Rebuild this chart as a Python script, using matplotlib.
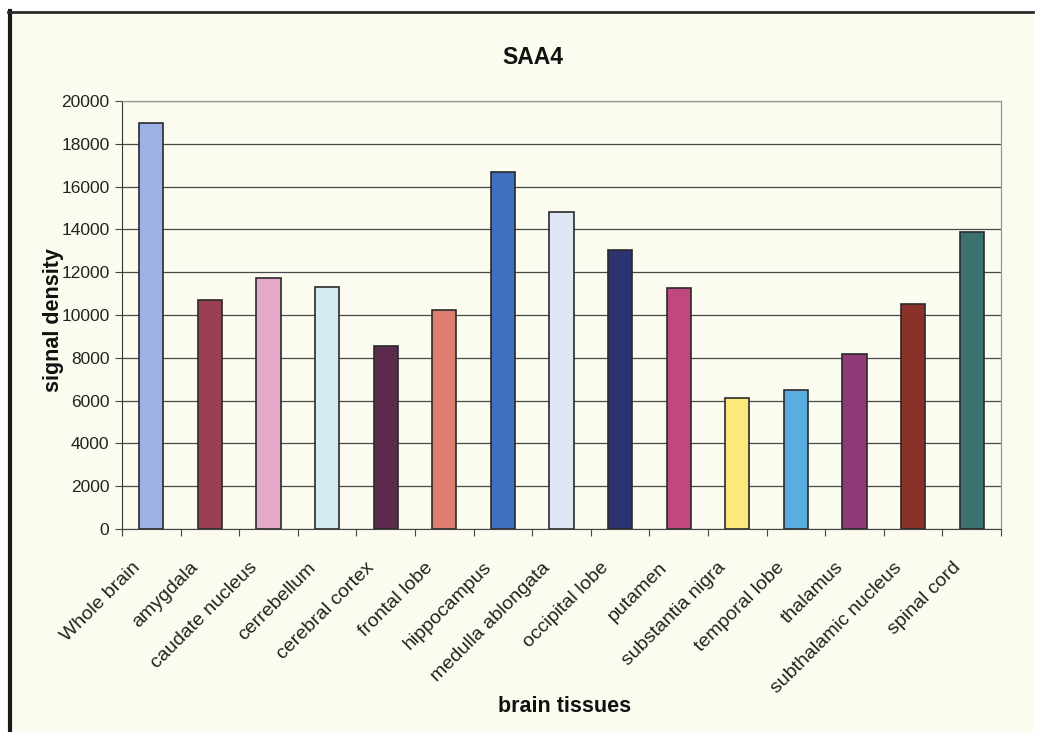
import matplotlib
matplotlib.use("Agg")
from matplotlib import pyplot as plt
from matplotlib.patches import Rectangle
from matplotlib.transforms import ScaledTranslation
import numpy as np

plt.rcParams['font.family'] = ['Liberation Sans', 'DejaVu Sans']

tissues = ["Whole brain", "amygdala", "caudate nucleus", "cerrebellum", "cerebral cortex",
           "frontal lobe", "hippocampus", "medulla ablongata", "occipital lobe", "putamen",
           "substantia nigra", "temporal lobe", "thalamus", "subthalamic nucleus", "spinal cord"]
signal = [18950, 10700, 11750, 11300, 8550, 10250, 16700, 14800, 13050, 11250,
          6100, 6500, 8200, 10500, 13900]
colors = ["#9db3e6", "#9a3f55", "#e5a9c9", "#d3ebf1", "#5c2a4d", "#dc7d70", "#3f6fbe",
          "#dde7f5", "#2b3370", "#c0487f", "#fbe97c", "#5aade0", "#8d3a77", "#8a3129", "#3b7171"]
yticks = np.arange(0, 20001, 2000)

W, H = 1054, 732
fig = plt.figure(figsize=(W / 100, H / 100), dpi=100)
fig.patch.set_facecolor("white")

# cream chart area with dark frame on left/top
bg = "#fbfbef"
fig.add_artist(Rectangle((11 / W, 0), (1033 - 11) / W, 1 - 12 / H,
                         transform=fig.transFigure, facecolor=bg, edgecolor="none", zorder=-10))
fig.add_artist(plt.Line2D([9.5 / W, 9.5 / W], [0, 1 - 11 / H], transform=fig.transFigure,
                          color="#1a1a1a", lw=3, zorder=-5))
fig.add_artist(plt.Line2D([8 / W, 1033 / W], [1 - 12 / H, 1 - 12 / H], transform=fig.transFigure,
                          color="#2a2a2a", lw=2, zorder=-5))

left, right, top, bottom = 122, 1001, 101, 529
ax = fig.add_axes([left / W, 1 - bottom / H, (right - left) / W, (bottom - top) / H])
ax.set_zorder(1)
ax.set_facecolor(bg)

x = np.arange(len(tissues))
ax.bar(x, signal, width=0.41, color=colors, edgecolor="#2a2a2a", linewidth=1.2, zorder=3)

ax.set_xlim(-0.5, len(tissues) - 0.5)
ax.set_ylim(0, 20000)
ax.set_yticks(yticks)
ax.set_yticklabels([str(v) for v in yticks], fontsize=12.5, color="#222222")
ax.yaxis.grid(True, color="#4a4a4a", lw=0.9, zorder=0)

ax.set_xticks(np.append(x - 0.5, len(tissues) - 0.5))
ax.set_xticklabels([""] * (len(tissues) + 1))
ax.tick_params(axis="x", direction="out", length=5, color="#444444")
ax.tick_params(axis="y", direction="out", length=5, color="#444444", pad=4)

off = ScaledTranslation(-14 / 100, -36 / 100, fig.dpi_scale_trans)
for i, name in enumerate(tissues):
    ax.text(i, 0, name, rotation=45, ha="right", va="center", fontsize=14,
            color="#222222", rotation_mode="anchor", transform=ax.transData + off)

for side in ["top", "right"]:
    ax.spines[side].set_color("#999999")
    ax.spines[side].set_linewidth(0.9)
ax.spines["left"].set_color("#333333")
ax.spines["bottom"].set_color("#444444")

fig.text(54 / W, 1 - 320 / H, "signal density", rotation=90, ha="center", va="center",
         fontsize=15.5, fontweight="bold", color="#111111")
fig.text(533 / W, 1 - 57 / H, "SAA4", ha="center", va="center", fontsize=16.5,
         fontweight="bold", color="#111111")
fig.text(565 / W, 1 - 706 / H, "brain tissues", ha="center", va="center", fontsize=15.5,
         fontweight="bold", color="#111111")

fig.savefig("out.png", dpi=100, facecolor=fig.get_facecolor())
